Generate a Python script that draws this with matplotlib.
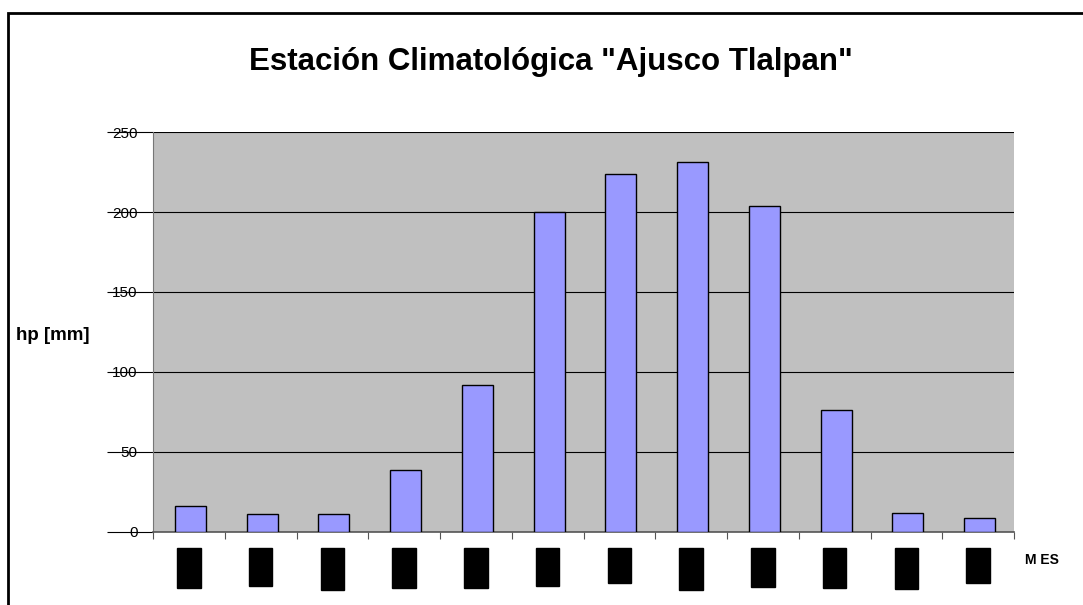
import matplotlib.pyplot as plt
import matplotlib.patches as mpatches
import numpy as np

plt.rcParams['font.family'] = ['Liberation Sans', 'DejaVu Sans']

meses = ['ENE', 'FEB', 'MAR', 'ABR', 'MAY', 'JUN', 'JUL', 'AGO', 'SEP', 'OCT', 'NOV', 'DIC']
hp_mm = [16, 11, 11, 39, 92, 200, 224, 231, 204, 76, 12, 9]
y_ticks = [0, 50, 100, 150, 200, 250]

fig = plt.figure(figsize=(10.83, 6.05), dpi=100)
ax = fig.add_axes([0.1413, 0.1207, 0.795, 0.6611])

x = np.arange(len(meses))
ax.bar(x + 0.02, hp_mm, width=0.43, color='#9999FF', edgecolor='black', linewidth=1, zorder=3)

ax.set_facecolor('#C0C0C0')
ax.set_xlim(-0.5, len(meses) - 0.5)
ax.set_ylim(0, 250)
ax.set_yticks(y_ticks)
ax.yaxis.grid(True, color='black', linewidth=0.8, zorder=1)
ax.set_axisbelow(True)

# marcas entre categorias, etiquetas en el centro
ax.set_xticks(np.arange(-0.5, len(meses), 1))
ax.set_xticklabels([])
ax.set_xticks(x, minor=True)
ax.set_xticklabels(meses, minor=True, rotation=90, fontsize=10.5, color='black', va='top',
                   bbox=dict(facecolor='black', edgecolor='black', boxstyle='square,pad=0.32'))
ax.tick_params(axis='x', which='minor', length=0, pad=15)
ax.tick_params(axis='x', which='major', direction='out', length=5, color='#555555')
ax.tick_params(axis='y', direction='out', length=33, pad=-22, labelsize=11, color='black')

for lado in ['top', 'right']:
    ax.spines[lado].set_visible(False)
ax.spines['left'].set_color('#777777')
ax.spines['bottom'].set_color('#555555')
ax.spines['bottom'].set_linewidth(1.2)

fig.text(0.509, 0.897, 'Estación Climatológica "Ajusco Tlalpan"', ha='center', va='center',
         fontsize=22.5, fontweight='bold')
fig.text(0.015, 0.446, 'hp [mm]', ha='left', va='center', fontsize=13.5, fontweight='bold')
fig.text(0.946, 0.074, 'M ES', ha='left', va='center', fontsize=10, fontweight='bold')

marco = mpatches.Rectangle((0.0075, -0.1), 1.1, 1.0785, transform=fig.transFigure,
                           fill=False, edgecolor='black', linewidth=2)
fig.add_artist(marco)

fig.savefig('out.png', dpi=100)
